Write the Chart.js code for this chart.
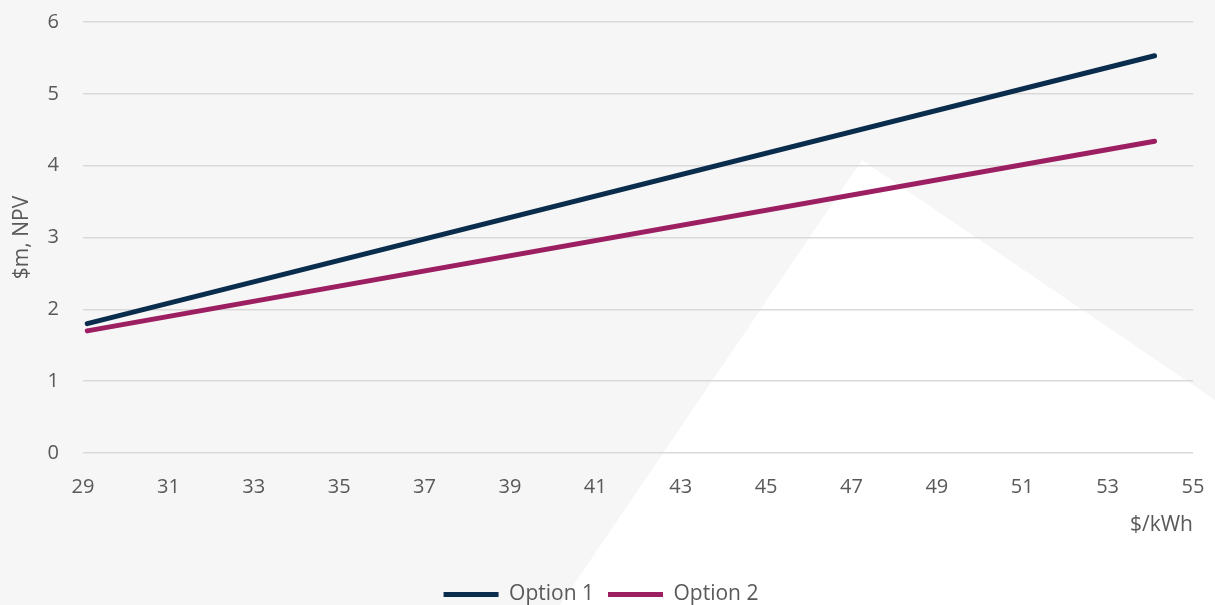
<!DOCTYPE html>
<html>
<head>
<meta charset="utf-8">
<script src="https://cdn.jsdelivr.net/npm/chart.js@4/dist/chart.umd.min.js"></script>
<style>
  html, body { margin: 0; padding: 0; }
  body { width: 1215px; height: 605px; background: #f6f6f6; position: relative; overflow: hidden; }
  /* light backdrop shape behind the chart */
  .shade { position: absolute; inset: 0; background: #ffffff;
    clip-path: polygon(560px 605px, 862px 160px, 1215px 400px, 1215px 605px); }
  .wrap { position: absolute; left: 0; top: 0; width: 1215px; height: 615px; }
</style>
</head>
<body>
<div class="shade"></div>
<div class="wrap"><canvas id="chart" width="1215" height="615"></canvas></div>
<script>
// $/kWh values at the two ends of each line
const xValues = [29.1, 54.1];
const option1 = [1.80, 5.53];
const option2 = [1.70, 4.34];
const seriesNames = ['Option 1', 'Option 2'];

const textColor = '#595959';
const fontFamily = "'Open Sans', 'Noto Sans', sans-serif";

function toPoints(ys) {
    return xValues.map((x, i) => ({ x: x, y: ys[i] }));
}

new Chart(document.getElementById('chart').getContext('2d'), {
    type: 'line',
    data: {
        datasets: [
            {
                label: seriesNames[0],
                data: toPoints(option1),
                borderColor: '#0b2d4d',
                backgroundColor: '#0b2d4d',
                borderWidth: 5,
                borderCapStyle: 'round',
                pointRadius: 0,
                pointStyle: 'line'
            },
            {
                label: seriesNames[1],
                data: toPoints(option2),
                borderColor: '#9c1f62',
                backgroundColor: '#9c1f62',
                borderWidth: 5,
                borderCapStyle: 'round',
                pointRadius: 0,
                pointStyle: 'line'
            }
        ]
    },
    options: {
        responsive: false,
        animation: false,
        layout: { padding: { left: 9, right: 22, top: 22, bottom: 0 } },
        plugins: {
            tooltip: { enabled: false },
            legend: {
                position: 'bottom',
                labels: {
                    color: textColor,
                    font: { family: fontFamily, size: 21 },
                    usePointStyle: true,
                    pointStyleWidth: 55,
                    boxHeight: 5,
                    padding: 14
                }
            }
        },
        scales: {
            x: {
                type: 'linear',
                min: 29,
                max: 55,
                ticks: { stepSize: 2, color: textColor, font: { family: fontFamily, size: 20 }, padding: 14 },
                grid: { display: false },
                border: { display: false },
                title: {
                    display: true,
                    text: '$/kWh',
                    align: 'end',
                    color: textColor,
                    font: { family: fontFamily, size: 21 },
                    padding: { top: 4, bottom: 32 }
                },
                afterFit: (scale) => {
                    scale.height = 117;
                    scale.paddingLeft = 0;
                    scale.paddingRight = 0;
                }
            },
            y: {
                min: 0,
                max: 6,
                ticks: { stepSize: 1, color: textColor, font: { family: fontFamily, size: 20 }, padding: 24 },
                grid: { color: '#d9d9d9', lineWidth: 1.5, drawTicks: false },
                border: { display: false },
                title: {
                    display: true,
                    text: '$m, NPV',
                    color: textColor,
                    font: { family: fontFamily, size: 21 },
                    padding: 0
                },
                afterFit: (scale) => {
                    scale.width = 74;
                    scale.paddingTop = 0;
                    scale.paddingBottom = 0;
                }
            }
        }
    }
});
</script>
</body>
</html>
